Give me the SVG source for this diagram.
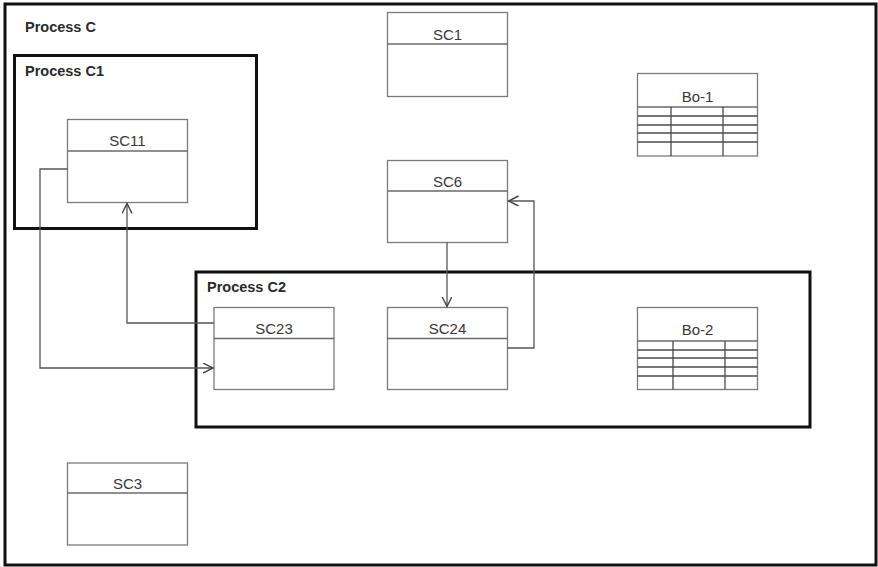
<svg xmlns="http://www.w3.org/2000/svg" width="878" height="567" viewBox="0 0 878 567">
<style>
.frame{fill:none;stroke:#111;stroke-width:3}
.node{fill:#fff;stroke:#7a7a7a;stroke-width:1.3}
.div{stroke:#6a6a6a;stroke-width:1.3}
.tl{stroke:#4a4a4a;stroke-width:1.3}
.lbl{font-family:"Liberation Sans",Arial,sans-serif;font-size:15px;fill:#383838;text-anchor:middle}
.plbl{font-family:"Liberation Sans",Arial,sans-serif;font-size:14.5px;font-weight:bold;fill:#2a2a2a}
.conn{fill:none;stroke:#555;stroke-width:1.3}
</style>
<defs>
<marker id="arr" markerUnits="userSpaceOnUse" markerWidth="12" markerHeight="12" refX="10" refY="5" orient="auto">
<path d="M0,0 L10,5 L0,10" fill="none" stroke="#444" stroke-width="1.4"/>
</marker>
</defs>
<rect width="878" height="567" fill="#fff"/>
<g id="process-c">
<rect class="frame" x="5" y="4" width="871" height="561"/>
<text class="plbl" x="25" y="32">Process C</text>
</g>
<g id="process-c1">
<rect class="frame" x="14.5" y="55.5" width="242" height="173"/>
<text class="plbl" x="25" y="76">Process C1</text>
</g>
<g id="process-c2">
<rect class="frame" x="196" y="272" width="614" height="155"/>
<text class="plbl" x="207" y="292">Process C2</text>
</g>
<g id="sc1">
<rect class="node" x="387.5" y="12.5" width="120" height="84"/>
<line class="div" x1="387.5" y1="44" x2="507.5" y2="44"/>
<text class="lbl" x="447.5" y="40">SC1</text>
</g>
<g id="sc11">
<rect class="node" x="67.5" y="119.5" width="120" height="83"/>
<line class="div" x1="67.5" y1="151" x2="187.5" y2="151"/>
<text class="lbl" x="127.5" y="146">SC11</text>
</g>
<g id="sc6">
<rect class="node" x="387.5" y="160.5" width="120" height="82"/>
<line class="div" x1="387.5" y1="191" x2="507.5" y2="191"/>
<text class="lbl" x="447.5" y="187">SC6</text>
</g>
<g id="sc23">
<rect class="node" x="214" y="307.5" width="120" height="82"/>
<line class="div" x1="214" y1="338.5" x2="334" y2="338.5"/>
<text class="lbl" x="274" y="334">SC23</text>
</g>
<g id="sc24">
<rect class="node" x="387.5" y="307.5" width="120" height="82"/>
<line class="div" x1="387.5" y1="338.5" x2="507.5" y2="338.5"/>
<text class="lbl" x="447.5" y="334">SC24</text>
</g>
<g id="sc3">
<rect class="node" x="67.5" y="463" width="120" height="82"/>
<line class="div" x1="67.5" y1="493" x2="187.5" y2="493"/>
<text class="lbl" x="127.5" y="489">SC3</text>
</g>
<g id="bo-1">
<rect class="node" x="637.5" y="73.5" width="120" height="82.5"/>
<line class="div" x1="637.5" y1="107" x2="757.5" y2="107"/>
<line class="tl" x1="637.5" y1="116" x2="757.5" y2="116"/>
<line class="tl" x1="637.5" y1="125" x2="757.5" y2="125"/>
<line class="tl" x1="637.5" y1="133" x2="757.5" y2="133"/>
<line class="tl" x1="637.5" y1="142" x2="757.5" y2="142"/>
<line class="tl" x1="671" y1="107" x2="671" y2="156"/>
<line class="tl" x1="723" y1="107" x2="723" y2="156"/>
<text class="lbl" x="697.5" y="102">Bo-1</text>
</g>
<g id="bo-2">
<rect class="node" x="637.5" y="307.5" width="120" height="82"/>
<line class="div" x1="637.5" y1="341" x2="757.5" y2="341"/>
<line class="tl" x1="637.5" y1="350" x2="757.5" y2="350"/>
<line class="tl" x1="637.5" y1="358" x2="757.5" y2="358"/>
<line class="tl" x1="637.5" y1="367" x2="757.5" y2="367"/>
<line class="tl" x1="637.5" y1="376" x2="757.5" y2="376"/>
<line class="tl" x1="673" y1="341" x2="673" y2="389.5"/>
<line class="tl" x1="725" y1="341" x2="725" y2="389.5"/>
<text class="lbl" x="697.5" y="335">Bo-2</text>
</g>
<g id="connectors">
<polyline class="conn" points="67.5,169 40,169 40,368 213,368" marker-end="url(#arr)"/>
<polyline class="conn" points="214,323 127,323 127,203.5" marker-end="url(#arr)"/>
<polyline class="conn" points="447,242.5 447,306.5" marker-end="url(#arr)"/>
<polyline class="conn" points="507.5,348 534,348 534,201 508.5,201" marker-end="url(#arr)"/>
</g>
</svg>
